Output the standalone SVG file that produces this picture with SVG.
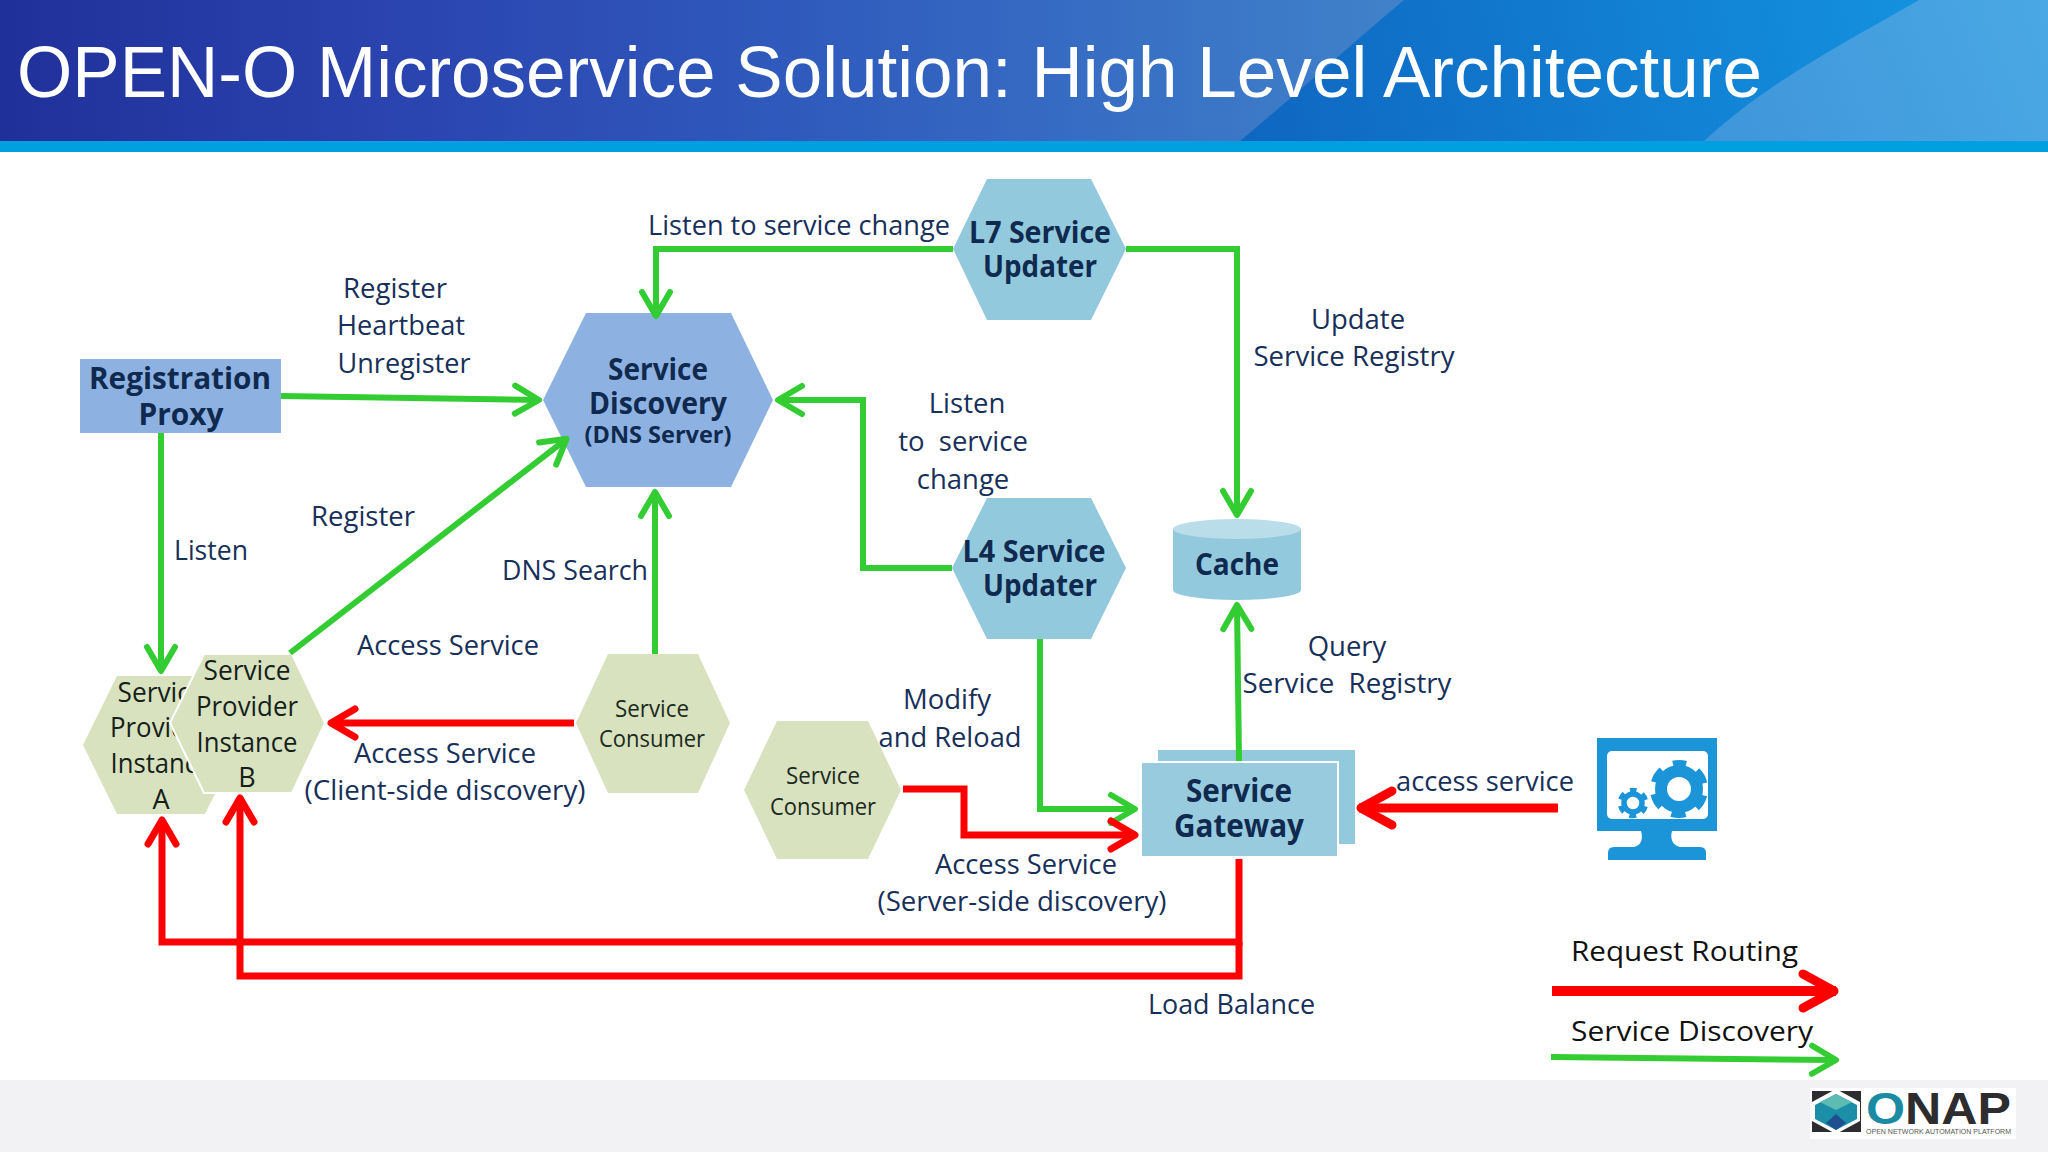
<svg xmlns="http://www.w3.org/2000/svg" width="2048" height="1152" viewBox="0 0 2048 1152">
<defs>
<linearGradient id="hdr" x1="0" y1="0" x2="1404" y2="0" gradientUnits="userSpaceOnUse"><stop offset="0" stop-color="#20309a"/><stop offset="0.3" stop-color="#2b45b0"/><stop offset="0.6" stop-color="#305dbe"/><stop offset="1" stop-color="#4082ca"/></linearGradient>
<linearGradient id="hdr2" x1="1240" y1="141" x2="1900" y2="0" gradientUnits="userSpaceOnUse"><stop offset="0" stop-color="#0f66c0"/><stop offset="1" stop-color="#1390de"/></linearGradient>
<linearGradient id="hdr3" x1="1704" y1="141" x2="2048" y2="0" gradientUnits="userSpaceOnUse"><stop offset="0" stop-color="#3f95da"/><stop offset="1" stop-color="#4aa8e4"/></linearGradient>
<marker id="ag" markerUnits="userSpaceOnUse" markerWidth="40" markerHeight="40" viewBox="-30 -20 40 40" refX="0" refY="0" orient="auto"><path d="M-24,-14 L0,0 L-24,14" fill="none" stroke="#33cc33" stroke-width="6" stroke-linecap="round" stroke-linejoin="round"/></marker>
<marker id="ar" markerUnits="userSpaceOnUse" markerWidth="40" markerHeight="40" viewBox="-30 -20 40 40" refX="0" refY="0" orient="auto"><path d="M-24,-14 L0,0 L-24,14" fill="none" stroke="#ff0000" stroke-width="7" stroke-linecap="round" stroke-linejoin="round"/></marker>
<marker id="arl" markerUnits="userSpaceOnUse" markerWidth="60" markerHeight="60" viewBox="-45 -30 60 60" refX="0" refY="0" orient="auto"><path d="M-33,-17 L-2,0 L-33,17" fill="none" stroke="#ff0000" stroke-width="9" stroke-linecap="round" stroke-linejoin="round"/></marker>
</defs>
<style>
text{font-family:"Open Sans","Noto Sans","Liberation Sans",sans-serif}
.l{font-size:27.5px;fill:#17305a}
.k{font-size:28px;fill:#111}
.m{text-anchor:middle}
.b{font-weight:700;font-size:31px;fill:#10294f;text-anchor:middle}
.h{font-size:27px;fill:#15201a;text-anchor:middle}
.c{font-size:23px;fill:#1c2a1e;text-anchor:middle}
.g{fill:none;stroke:#33cc33;stroke-width:6}
.r{fill:none;stroke:#ff0000;stroke-width:7}
.hg{fill:#d8e2bf}
.hb{fill:#92c9dd}
.ic{fill:#1b94d8}
</style>
<rect width="2048" height="1152" fill="#fff"/>
<rect width="2048" height="142" fill="url(#hdr)"/>
<path d="M1404,0 C1350,45 1290,100 1240,141 H2048 V0 Z" fill="url(#hdr2)"/>
<path d="M1919,0 C1850,40 1770,80 1704,141 H2048 V0 Z" fill="url(#hdr3)"/>
<rect y="141" width="2048" height="11" fill="#00a0e0"/>
<rect y="1080" width="2048" height="72" fill="#f2f2f4"/>
<text x="17" y="97" font-size="72" fill="#fff" style="font-family:'Liberation Sans',Arial,sans-serif" textLength="1745" lengthAdjust="spacingAndGlyphs">OPEN-O Microservice Solution: High Level Architecture</text>

<g id="node-proxy"><rect x="80" y="359" width="201" height="74" fill="#8db2e2"/><text class="b" x="180" y="389" textLength="182" lengthAdjust="spacingAndGlyphs">Registration</text><text class="b" x="181" y="425" textLength="85" lengthAdjust="spacingAndGlyphs">Proxy</text></g>
<g id="node-discovery"><polygon points="543,400 586,313 731,313 773,400 731,487 586,487" fill="#8db2e2"/><text class="b" x="658" y="380" textLength="100" lengthAdjust="spacingAndGlyphs">Service</text><text class="b" x="658" y="414" textLength="138" lengthAdjust="spacingAndGlyphs">Discovery</text><text class="b" x="658" y="443" style="font-size:24px" textLength="147" lengthAdjust="spacingAndGlyphs">(DNS Server)</text></g>
<g id="node-l7"><polygon class="hb" points="953,249 987,179 1091,179 1126,249 1091,320 987,320"/><text class="b" x="1040" y="243" textLength="142" lengthAdjust="spacingAndGlyphs">L7 Service</text><text class="b" x="1040" y="277" textLength="114" lengthAdjust="spacingAndGlyphs">Updater</text></g>
<g id="node-l4"><polygon class="hb" points="952,568 987,498 1091,498 1126,568 1091,639 987,639"/><text class="b" x="1034" y="562" textLength="143" lengthAdjust="spacingAndGlyphs">L4 Service</text><text class="b" x="1040" y="596" textLength="114" lengthAdjust="spacingAndGlyphs">Updater</text></g>
<g id="node-cache"><path d="M1173,529 V590 A64,10 0 0 0 1301,590 V529 Z" fill="#92c9dd"/><ellipse cx="1237" cy="529" rx="64" ry="10" fill="#b9dde9"/><text class="b" x="1237" y="575" textLength="84" lengthAdjust="spacingAndGlyphs">Cache</text></g>
<g id="node-provider-a"><polygon class="hg" points="83,745 117,676 205,676 239,745 205,814 117,814"/><text class="h" x="161" y="702" textLength="87" lengthAdjust="spacingAndGlyphs">Service</text><text class="h" x="161" y="737" textLength="102" lengthAdjust="spacingAndGlyphs">Provider</text><text class="h" x="161" y="773" textLength="101" lengthAdjust="spacingAndGlyphs">Instance</text><text class="h" x="161" y="809">A</text></g>
<g id="node-provider-b"><polygon class="hg" points="170,723 204,654 292,654 325,723 292,793 204,793" stroke="#fff" stroke-width="2"/><text class="h" x="247" y="680" textLength="87" lengthAdjust="spacingAndGlyphs">Service</text><text class="h" x="247" y="716" textLength="102" lengthAdjust="spacingAndGlyphs">Provider</text><text class="h" x="247" y="752" textLength="101" lengthAdjust="spacingAndGlyphs">Instance</text><text class="h" x="247" y="787">B</text></g>
<g id="node-consumer-1"><polygon class="hg" points="576,723 608,654 698,654 730,723 698,793 608,793"/><text class="c" x="652" y="717" textLength="74" lengthAdjust="spacingAndGlyphs">Service</text><text class="c" x="652" y="747" textLength="106" lengthAdjust="spacingAndGlyphs">Consumer</text></g>
<g id="node-consumer-2"><polygon class="hg" points="744,790 777,721 868,721 901,790 868,859 777,859"/><text class="c" x="823" y="784" textLength="74" lengthAdjust="spacingAndGlyphs">Service</text><text class="c" x="823" y="815" textLength="106" lengthAdjust="spacingAndGlyphs">Consumer</text></g>
<g id="node-gateway"><rect x="1158" y="750" width="197" height="94" fill="#92c9dd"/><rect x="1141" y="762" width="197" height="95" fill="#98cbde" stroke="#fff" stroke-width="2"/><text class="b" x="1239" y="802" style="font-size:33px" textLength="106" lengthAdjust="spacingAndGlyphs">Service</text><text class="b" x="1239" y="837" style="font-size:33px" textLength="130" lengthAdjust="spacingAndGlyphs">Gateway</text></g>
<g id="node-client">
<rect class="ic" x="1597" y="738" width="120" height="93"/>
<rect x="1607" y="751" width="101" height="68" rx="5" fill="#fff"/>
<path class="ic" d="M1641,831 H1672 C1670,838 1672,845 1680,847 H1700 Q1706,847 1706,853 V860 H1608 V853 Q1608,847 1614,847 H1634 C1642,845 1643,838 1641,831 Z"/>
<circle cx="1679" cy="789" r="18" fill="none" stroke="#1b94d8" stroke-width="12"/>
<circle cx="1679" cy="789" r="25" fill="none" stroke="#1b94d8" stroke-width="8" stroke-dasharray="14 12.18" stroke-dashoffset="7" transform="rotate(-90 1679 789)"/>
<circle cx="1633" cy="803" r="9" fill="none" stroke="#1b94d8" stroke-width="5.5"/>
<circle cx="1633" cy="803" r="13" fill="none" stroke="#1b94d8" stroke-width="4.5" stroke-dasharray="7 6.6" stroke-dashoffset="3.5" transform="rotate(-90 1633 803)"/>
</g>

<g id="connectors">
<path class="g" marker-end="url(#ag)" d="M953,249 H656 V316"/>
<path class="g" marker-end="url(#ag)" d="M1126,249 H1237 V515"/>
<path class="g" marker-end="url(#ag)" d="M952,568 H863 V400 H778"/>
<path class="g" marker-end="url(#ag)" d="M281,396 L539,400"/>
<path class="g" marker-end="url(#ag)" d="M161,433 V671"/>
<path class="g" marker-end="url(#ag)" d="M290,653 L566.600,438.800"/>
<path class="g" marker-end="url(#ag)" d="M655,654 V492"/>
<path class="g" marker-end="url(#ag)" d="M1040,639 V809 H1135"/>
<path class="g" marker-end="url(#ag)" d="M1239,761 L1237,605"/>
<path class="r" marker-end="url(#ar)" d="M574,723 H331"/>
<path class="r" marker-end="url(#ar)" d="M903,789 H964 V835 H1135"/>
<path class="r" style="stroke-width:9" marker-end="url(#arl)" d="M1558,808 H1359"/>
<path class="r" marker-end="url(#ar)" d="M1239,859 V942 H162 V820"/>
<path class="r" marker-end="url(#ar)" d="M1239,942 V976 H240 V798"/>
<path class="r" style="stroke-width:10" marker-end="url(#arl)" d="M1552,991 H1836"/>
<path class="g" marker-end="url(#ag)" d="M1551,1057 L1836,1060"/>
</g>

<g id="labels">
<text class="l" x="648" y="235" textLength="302" lengthAdjust="spacingAndGlyphs">Listen to service change</text>
<text class="l m" x="395" y="298" textLength="104" lengthAdjust="spacingAndGlyphs">Register</text><text class="l m" x="401" y="335" textLength="128" lengthAdjust="spacingAndGlyphs">Heartbeat</text><text class="l m" x="404" y="373" textLength="133" lengthAdjust="spacingAndGlyphs">Unregister</text>
<text class="l m" x="1358" y="329">Update</text><text class="l m" x="1354" y="366" textLength="201" lengthAdjust="spacingAndGlyphs">Service Registry</text>
<text class="l m" x="967" y="413">Listen</text><text class="l m" x="963" y="451" xml:space="preserve">to  service</text><text class="l m" x="963" y="489">change</text>
<text class="l" x="174" y="560" textLength="74" lengthAdjust="spacingAndGlyphs">Listen</text>
<text class="l" x="311" y="526" textLength="104" lengthAdjust="spacingAndGlyphs">Register</text>
<text class="l" x="502" y="580" textLength="146" lengthAdjust="spacingAndGlyphs">DNS Search</text>
<text class="l" x="357" y="655" textLength="182" lengthAdjust="spacingAndGlyphs">Access Service</text>
<text class="l m" x="445" y="763" textLength="182" lengthAdjust="spacingAndGlyphs">Access Service</text>
<text class="l m" x="445" y="800" textLength="281" lengthAdjust="spacingAndGlyphs">(Client-side discovery)</text>
<text class="l m" x="947" y="709">Modify</text><text class="l m" x="950" y="747" textLength="143" lengthAdjust="spacingAndGlyphs">and Reload</text>
<text class="l m" x="1347" y="656">Query</text><text class="l m" x="1347" y="693" textLength="209" lengthAdjust="spacingAndGlyphs" xml:space="preserve">Service  Registry</text>
<text class="l" x="1396" y="791" textLength="178" lengthAdjust="spacingAndGlyphs">access service</text>
<text class="l m" x="1026" y="874" textLength="182" lengthAdjust="spacingAndGlyphs">Access Service</text>
<text class="l m" x="1022" y="911" textLength="289" lengthAdjust="spacingAndGlyphs">(Server-side discovery)</text>
<text class="l" x="1148" y="1014" textLength="167" lengthAdjust="spacingAndGlyphs">Load Balance</text>
<text class="k" x="1571" y="961" textLength="227" lengthAdjust="spacingAndGlyphs">Request Routing</text>
<text class="k" x="1571" y="1041" textLength="242" lengthAdjust="spacingAndGlyphs">Service Discovery</text>
</g>

<g id="logo">
<rect x="1810" y="1088" width="206" height="51" fill="#fff"/>
<rect x="1812" y="1091" width="49" height="41" fill="#2d2d2f"/>
<polygon points="1836,1089 1860,1102 1860,1121 1836,1134 1812,1121 1812,1102" fill="#fff"/>
<polygon points="1836,1094 1857,1105 1857,1119 1836,1130 1815,1119 1815,1105" fill="#1b8fa8"/>
<polygon points="1836,1094 1852,1102 1836,1110 1820,1102" fill="#5cbcb4"/>
<polygon points="1826,1123 1836,1114 1846,1123 1836,1130" fill="#1f4e8f"/>
<text x="1866" y="1124" font-size="45" font-weight="700" style="font-family:'Liberation Sans',Arial,sans-serif" textLength="145" lengthAdjust="spacingAndGlyphs"><tspan fill="#1a8ba3">O</tspan><tspan fill="#2d2d2f">NAP</tspan></text>
<text x="1866" y="1134" font-size="7.5" fill="#555" style="font-family:'Liberation Sans',Arial,sans-serif" textLength="145" lengthAdjust="spacingAndGlyphs">OPEN NETWORK AUTOMATION PLATFORM</text>
</g>
</svg>
